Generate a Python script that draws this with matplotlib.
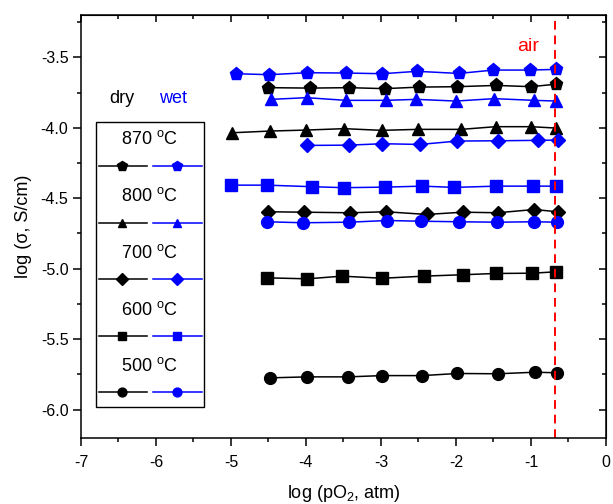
import matplotlib

matplotlib.use("Agg")
import matplotlib.pyplot as plt
from matplotlib.lines import Line2D
from matplotlib.patches import Rectangle
from matplotlib.ticker import MultipleLocator, FormatStrFormatter

plt.rcParams["font.family"] = ["Liberation Sans", "DejaVu Sans"]
plt.rcParams["mathtext.default"] = "regular"

# values: log(pO2, atm) vs log(sigma, S/cm)
AIR_PO2 = -0.68

dry_870_x = [-4.50, -3.95, -3.42, -2.95, -2.49, -1.98, -1.46, -1.00, -0.66]
dry_870_y = [-3.715, -3.718, -3.715, -3.722, -3.711, -3.708, -3.699, -3.708, -3.690]
wet_870_x = [-4.93, -4.49, -3.99, -3.47, -2.98, -2.52, -1.96, -1.50, -1.01, -0.66]
wet_870_y = [-3.616, -3.623, -3.609, -3.611, -3.616, -3.599, -3.614, -3.590, -3.590, -3.585]

dry_800_x = [-4.98, -4.48, -4.00, -3.49, -2.99, -2.51, -1.93, -1.47, -1.00, -0.66]
dry_800_y = [-4.035, -4.023, -4.016, -4.006, -4.018, -4.011, -4.011, -3.992, -3.992, -4.002]
wet_800_x = [-4.46, -3.99, -3.47, -2.93, -2.53, -2.00, -1.49, -0.96, -0.66]
wet_800_y = [-3.798, -3.786, -3.805, -3.805, -3.798, -3.810, -3.793, -3.805, -3.810]

dry_700_x = [-4.50, -4.03, -3.41, -2.93, -2.39, -1.91, -1.44, -0.96, -0.64]
dry_700_y = [-4.596, -4.599, -4.603, -4.596, -4.615, -4.599, -4.603, -4.580, -4.596]
wet_700_x = [-3.99, -3.43, -2.98, -2.48, -1.98, -1.44, -0.91, -0.64]
wet_700_y = [-4.125, -4.123, -4.113, -4.118, -4.094, -4.092, -4.089, -4.087]

dry_600_x = [-4.52, -3.98, -3.52, -2.98, -2.43, -1.91, -1.47, -0.98, -0.66]
dry_600_y = [-5.065, -5.072, -5.053, -5.068, -5.053, -5.043, -5.034, -5.032, -5.022]
wet_600_x = [-5.00, -4.52, -3.92, -3.49, -2.94, -2.45, -2.02, -1.46, -0.97, -0.66]
wet_600_y = [-4.407, -4.407, -4.418, -4.425, -4.421, -4.414, -4.423, -4.414, -4.414, -4.414]

dry_500_x = [-4.48, -3.98, -3.44, -2.98, -2.45, -1.98, -1.44, -0.95, -0.65]
dry_500_y = [-5.775, -5.768, -5.768, -5.759, -5.759, -5.744, -5.746, -5.735, -5.739]
wet_500_x = [-4.52, -4.04, -3.42, -2.92, -2.47, -1.96, -1.45, -0.96, -0.65]
wet_500_y = [-4.667, -4.674, -4.670, -4.658, -4.663, -4.667, -4.670, -4.667, -4.670]

temperatures = ["870", "800", "700", "600", "500"]
markers = ["p", "^", "D", "s", "o"]
dry_series = [
    (dry_870_x, dry_870_y),
    (dry_800_x, dry_800_y),
    (dry_700_x, dry_700_y),
    (dry_600_x, dry_600_y),
    (dry_500_x, dry_500_y),
]
wet_series = [
    (wet_870_x, wet_870_y),
    (wet_800_x, wet_800_y),
    (wet_700_x, wet_700_y),
    (wet_600_x, wet_600_y),
    (wet_500_x, wet_500_y),
]

DRY = "black"
WET = "#0000ff"


def marker_size(marker: str) -> float:
    return {"p": 9.5, "^": 8.5, "D": 7.5, "s": 8, "o": 8.5}[marker]


fig = plt.figure(figsize=(6.13, 5.04), dpi=100)
ax = fig.add_axes([0.132, 0.1315, 0.8565, 0.8385])

for (x, y), (xw, yw), m in zip(dry_series, wet_series, markers):
    ax.plot(x, y, color=DRY, marker=m, markersize=marker_size(m), linewidth=1.1)
    ax.plot(xw, yw, color=WET, marker=m, markersize=marker_size(m), linewidth=1.1)

ax.axvline(AIR_PO2, color="#ff0000", linestyle=(0, (4.5, 3)), linewidth=1.4)
ax.text(AIR_PO2 - 0.36, -3.42, "air", color="#ff0000", fontsize=14,
        ha="center", va="center")

ax.set_xlim(-7, 0)
ax.set_ylim(-6.2, -3.2)
ax.xaxis.set_major_locator(MultipleLocator(1))
ax.xaxis.set_minor_locator(MultipleLocator(0.5))
ax.yaxis.set_major_locator(MultipleLocator(0.5))
ax.yaxis.set_minor_locator(MultipleLocator(0.25))
ax.xaxis.set_major_formatter(FormatStrFormatter("%d"))
ax.yaxis.set_major_formatter(FormatStrFormatter("%.1f"))
ax.tick_params(which="both", direction="out", width=1.1, labelsize=11.5)
ax.tick_params(which="major", length=5.5)
ax.tick_params(which="minor", length=3)
ax.tick_params(axis="x", which="major", pad=7)
for spine in ax.spines.values():
    spine.set_linewidth(1.1)

top = ax.secondary_xaxis("top")
top.xaxis.set_major_locator(MultipleLocator(1))
top.xaxis.set_minor_locator(MultipleLocator(0.5))
top.tick_params(which="both", direction="in", labeltop=False, width=1.1)
top.tick_params(which="major", length=5)
top.tick_params(which="minor", length=3)
right = ax.secondary_yaxis("right")
right.yaxis.set_major_locator(MultipleLocator(0.5))
right.yaxis.set_minor_locator(MultipleLocator(0.25))
right.tick_params(which="both", direction="in", labelright=False, width=1.1)
right.tick_params(which="major", length=5)
right.tick_params(which="minor", length=3)

ax.set_xlabel("log (pO$_2$, atm)", fontsize=13, labelpad=9)
ax.set_ylabel("log (\u03c3, S/cm)", fontsize=13, labelpad=6)

# hand-built legend: one temperature title per row, dry and wet keys below it
ax.add_patch(Rectangle((0.028, 0.073), 0.2063, 0.6743, transform=ax.transAxes,
                       fill=False, edgecolor="black", linewidth=1.0, zorder=5))
ax.text(0.078, 0.8037, "dry", color=DRY, fontsize=13, ha="center",
        va="center", transform=ax.transAxes)
ax.text(0.1752, 0.8037, "wet", color=WET, fontsize=13, ha="center",
        va="center", transform=ax.transAxes)
title_y = [0.7067, 0.5709, 0.4370, 0.3029, 0.1704]
key_y = [0.6428, 0.5086, 0.3747, 0.2406, 0.1081]
for t, m, ty, ky in zip(temperatures, markers, title_y, key_y):
    ax.text(0.1314, ty, f"{t} $^{{o}}$C", fontsize=13, ha="center",
            va="center", transform=ax.transAxes)
    for x0, x1, xm, c in [(0.0343, 0.1251, 0.0781, DRY),
                          (0.1371, 0.2299, 0.1829, WET)]:
        ax.add_line(Line2D([x0, x1], [ky, ky], color=c, linewidth=1.1,
                           transform=ax.transAxes))
        ax.add_line(Line2D([xm], [ky], color=c, marker=m,
                           markersize=marker_size(m) * 0.75,
                           transform=ax.transAxes))

fig.savefig("out.png", dpi=100)
